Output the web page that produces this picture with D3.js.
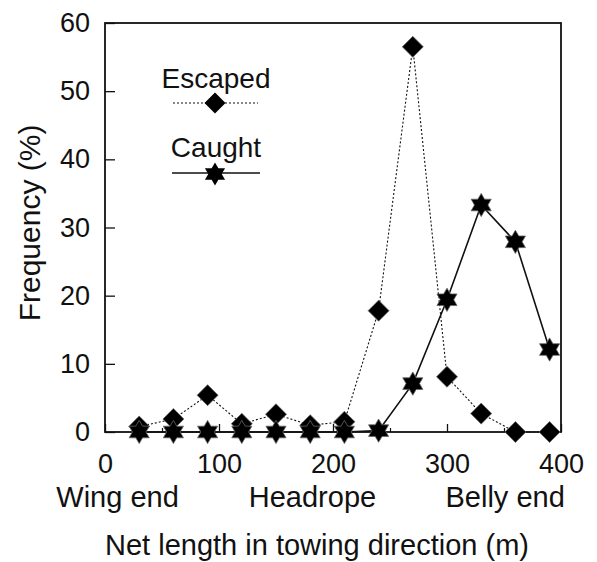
<!DOCTYPE html>
<html>
<head>
<meta charset="utf-8">
<script src="https://cdn.jsdelivr.net/npm/d3@7"></script>
<style>
body { margin: 0; background: #fff; }
text { font-family: "Liberation Sans", Arial, sans-serif; fill: #111; }
</style>
</head>
<body>
<div id="chart"></div>
<script>
var positions = [30, 60, 90, 120, 150, 180, 210, 240, 270, 300, 330, 360, 390];
var escaped = [0.8, 1.9, 5.4, 1.2, 2.6, 1.0, 1.5, 17.8, 56.5, 8.1, 2.7, 0, 0];
var caught = [0, 0, 0, 0, 0, 0, 0, 0.2, 7.1, 19.4, 33.3, 27.9, 12.1];
var xTicks = [0, 100, 200, 300, 400];
var xMinor = [50, 150, 250, 350];
var yTicks = [0, 10, 20, 30, 40, 50, 60];
var zoneLabels = [{ name: "Wing end", at: 11 }, { name: "Headrope", at: 182 }, { name: "Belly end", at: 351 }];

var W = 597, H = 562;
var mL = 105, mR = 561, mT = 23, mB = 432;

var svg = d3.select("#chart").append("svg").attr("width", W).attr("height", H);

var x = d3.scaleLinear().domain([0, 400]).range([mL, mR]);
var y = d3.scaleLinear().domain([0, 60]).range([mB, mT]);

// ticks pointing into the frame
svg.append("g").attr("transform", "translate(0," + mB + ")")
    .call(d3.axisBottom(x).tickValues(xTicks).tickSize(-8).tickPadding(22).tickFormat(d3.format("d")))
    .call(function (g) {
        g.select(".domain").remove();
        g.selectAll("line").attr("stroke", "#111").attr("stroke-width", 1.3);
        g.selectAll("text").attr("font-size", 27).style("font-family", "Liberation Sans, Arial, sans-serif");
    });
svg.append("g").attr("transform", "translate(0," + mB + ")")
    .call(d3.axisBottom(x).tickValues(xMinor).tickSize(-4).tickFormat(""))
    .call(function (g) {
        g.select(".domain").remove();
        g.selectAll("line").attr("stroke", "#111").attr("stroke-width", 1.2);
    });
svg.append("g").attr("transform", "translate(" + mL + ",0)")
    .call(d3.axisLeft(y).tickValues(yTicks).tickSize(-10).tickPadding(15))
    .call(function (g) {
        g.select(".domain").remove();
        g.selectAll("line").attr("stroke", "#111").attr("stroke-width", 1.3);
        g.selectAll("text").attr("font-size", 27).style("font-family", "Liberation Sans, Arial, sans-serif");
    });

// frame
svg.append("rect").attr("x", mL).attr("y", mT)
    .attr("width", mR - mL).attr("height", mB - mT)
    .attr("fill", "none").attr("stroke", "#111").attr("stroke-width", 1.8);

// axis titles
svg.append("text").attr("transform", "translate(40,223) rotate(-90)")
    .attr("text-anchor", "middle").attr("font-size", 30).text("Frequency (%)");
svg.append("text").attr("x", 317).attr("y", 555)
    .attr("text-anchor", "middle").attr("font-size", 29).text("Net length in towing direction (m)");
svg.selectAll(".zone").data(zoneLabels).enter().append("text")
    .attr("class", "zone")
    .attr("x", function (d) { return x(d.at); })
    .attr("y", 507)
    .attr("text-anchor", "middle").attr("font-size", 29)
    .text(function (d) { return d.name; });

var diamond = d3.symbol().type({
    draw: function (ctx, size) {
        var r = Math.sqrt(size);
        ctx.moveTo(0, -r); ctx.lineTo(r, 0); ctx.lineTo(0, r); ctx.lineTo(-r, 0); ctx.closePath();
    }
}).size(110);
var star = d3.symbol().type({
    draw: function (ctx, size) {
        var R = Math.sqrt(size), r = R * 0.58;
        for (var i = 0; i < 12; i++) {
            var a = -Math.PI / 2 + i * Math.PI / 6;
            var rr = i % 2 ? r : R;
            if (i === 0) ctx.moveTo(rr * Math.cos(a), rr * Math.sin(a));
            else ctx.lineTo(rr * Math.cos(a), rr * Math.sin(a));
        }
        ctx.closePath();
    }
}).size(135);

var line = d3.line().x(function (d) { return x(d[0]); }).y(function (d) { return y(d[1]); });

var escData = positions.map(function (p, i) { return [p, escaped[i]]; });
var catData = positions.map(function (p, i) { return [p, caught[i]]; });

svg.append("path").datum(escData).attr("d", line)
    .attr("fill", "none").attr("stroke", "#111").attr("stroke-width", 1.1).attr("stroke-dasharray", "2,2");
svg.append("path").datum(catData).attr("d", line)
    .attr("fill", "none").attr("stroke", "#111").attr("stroke-width", 1.6);

svg.selectAll(".esc").data(escData).enter().append("path")
    .attr("class", "esc").attr("d", diamond)
    .attr("transform", function (d) { return "translate(" + x(d[0]) + "," + y(d[1]) + ")"; })
    .attr("fill", "#000").attr("stroke", "#666").attr("stroke-width", 0.8);
svg.selectAll(".cat").data(catData).enter().append("path")
    .attr("class", "cat").attr("d", star)
    .attr("transform", function (d) { return "translate(" + x(d[0]) + "," + y(d[1]) + ")"; })
    .attr("fill", "#000").attr("stroke", "#666").attr("stroke-width", 0.8);

// legend
var lg = svg.append("g");
lg.append("text").attr("x", 216).attr("y", 88).attr("text-anchor", "middle").attr("font-size", 28).text("Escaped");
lg.append("line").attr("x1", 173).attr("x2", 258).attr("y1", 103).attr("y2", 103)
    .attr("stroke", "#111").attr("stroke-width", 1.1).attr("stroke-dasharray", "2,2");
lg.append("path").attr("d", diamond).attr("transform", "translate(215,103)").attr("fill", "#000");
lg.append("text").attr("x", 216).attr("y", 157).attr("text-anchor", "middle").attr("font-size", 28).text("Caught");
lg.append("line").attr("x1", 172).attr("x2", 260).attr("y1", 173).attr("y2", 173)
    .attr("stroke", "#111").attr("stroke-width", 1.6);
lg.append("path").attr("d", star).attr("transform", "translate(215,174)").attr("fill", "#000");
</script>
</body>
</html>
